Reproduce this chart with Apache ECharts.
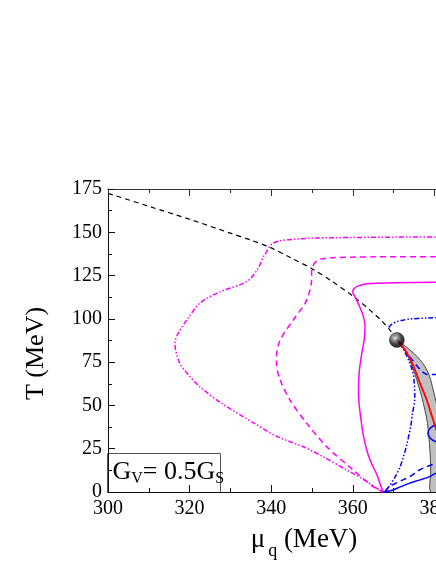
<!DOCTYPE html>
<html>
<head>
<meta charset="utf-8">
<script src="https://cdn.jsdelivr.net/npm/echarts@6/dist/echarts.min.js"></script>
<style>
html,body{margin:0;padding:0;background:#fff;}
#c{width:436px;height:564px;}
</style>
</head>
<body>
<div id="c"></div>
<script>
// ---- data (mu_q in MeV, T in MeV) ----
var xTicks = [300, 320, 340, 360, 380, 400];
var yTicks = [0, 25, 50, 75, 100, 125, 150, 175];

var blackDashed = [[300,172.5],[310,165],[320,157.5],[330,149.5],[335,145.5],[340,141],[345,135],[350,129],[355,121.5],[360,113.2],[364,105.5],[367,99],[369,93.8],[370.5,89]];

var magentaDashDot = [[400,147.5],[385,147.4],[370,147.2],[360,147],[350,146.6],[345,145.9],[342,145],[340.3,143.5],[339.5,141.5],[338.8,138.5],[338.1,135.9],[336.8,129.2],[334,121.5],[327.5,115.7],[322.5,109],[319.3,99.3],[317.2,91.7],[316.4,85.9],[317.6,74.3],[320,67],[322.5,60.8],[328,51],[336,39.5],[341.5,32],[348,26],[353,20],[358.5,12.7],[362.5,7.5],[365.9,2.1],[367.5,0]];

var magentaDashed = [[400,136],[380,135.9],[365,135.8],[355,135.3],[352,134.5],[350.7,132.5],[350.2,130],[349.9,127],[349.9,122.5],[349.3,115],[348.3,109],[345.4,99.3],[342.2,87.8],[341.3,78.1],[341.3,74.3],[342.2,64.7],[344.6,53.1],[348.7,39.7],[353.6,26.2],[360.1,12.7],[365,3.1],[367.5,0]];

var magentaSolid = [[400,121.5],[380,121.1],[370,120.8],[364,120.4],[361.5,119.2],[360.2,117.3],[360,115.5],[360.5,113],[361.5,108],[362.5,102],[363,96],[362.8,88],[362.2,80],[361.6,70],[361.4,60],[361.5,52],[362,42],[362.5,34],[363.4,24.3],[364.5,17],[365.9,10],[366.8,4],[367.5,0]];

var blueDashDotUpper = [[368.8,95],[369.5,96.8],[370.8,98.4],[372.5,99.4],[374,99.9],[378,100.5],[385,100.9],[400,101.2]];
var blueDashDotLower = [[371,87.5],[372.5,82],[373.7,76],[374.6,70],[375,65],[375.2,54],[374.6,45],[374.2,38],[373.2,27],[372.5,21],[371.5,14],[370.3,8.4],[369,3.5],[367.8,0]];

var blueDashedUpper = [[371,87.5],[372.5,83],[374,78],[375.5,73.5],[376.8,70],[378,68],[380,67.8],[385,68.3],[400,69]];
var blueDashedLower = [[367.8,0],[368.9,3.1],[370.5,5],[372.2,6.9],[374,8.9],[376.3,12.7],[378,14.5],[380.4,16.6],[385,20],[400,28]];

var blueSolidUpper = [[400,41],[390,40.5],[383,39.5],[380.4,38.7],[379,37],[378.4,33.9],[379,31],[380.4,29],[383,27.5],[390,25],[400,23]];
var blueSolidLower = [[367.6,0],[369.8,1.2],[371.5,2.8],[373.8,5],[376.5,7],[378.8,8.9],[380.4,10.8],[385,13.5],[400,20]];

var redSolid = [[370.8,87.8],[372.8,82],[374.8,73],[376.6,62],[378,54],[379.1,46],[380.2,38],[381.2,30],[382,20]];

var bandLeft = [[370.8,87.8],[372,84],[373.5,79],[374.8,71],[375.9,63],[376.9,55],[377.7,47],[378.3,39.7],[378.9,24.3],[379.1,12],[379.1,0]];
var bandRight = [[370.8,87.8],[373,84],[375,80],[376.6,76],[377.7,72.4],[378.8,67],[379.7,59],[380.6,50],[381.4,40],[382,28],[382.4,14],[382.5,0]];

var cep = [[370.8,87.8]];

// ---- chart ----
var serif = 'Liberation Serif';
var chart = echarts.init(document.getElementById('c'), null, {renderer:'canvas'});

function lineSeries(name, data, color, type, width, z){
  return {
    name:name, type:'line', data:data, showSymbol:false, symbol:'none',
    smooth:0.3, clip:true, z:z||3, silent:true,
    lineStyle:{color:color, width:width||1.5, type:type||'solid'}
  };
}
var dashDot = [5,2,1.5,2,1.5,2];
var dashed = [6,4];

var option = {
  animation:false,
  backgroundColor:'#fff',
  grid:{left:108, top:189, width:408, height:303, containLabel:false, outerBoundsMode:'none'},
  xAxis:[{
    type:'value', min:xTicks[0], max:xTicks[xTicks.length-1], interval:20,
    position:'bottom',
    name:'{m|\u03bc}{s|q}{m| (MeV)}', nameLocation:'middle', nameGap:34,
    nameTextStyle:{padding:[0,16,0,0], rich:{
      m:{fontFamily:serif, fontSize:27, color:'#000', lineHeight:28, verticalAlign:'top'},
      s:{fontFamily:serif, fontSize:18, color:'#000', lineHeight:18, padding:[16,0,0,3], verticalAlign:'top'}
    }},
    axisLine:{show:true, lineStyle:{color:'#111', width:1}},
    axisTick:{show:true, inside:true, length:7, lineStyle:{color:'#111'}},
    minorTick:{show:true, splitNumber:2, length:4, lineStyle:{color:'#111'}},
    axisLabel:{fontFamily:serif, fontSize:20, color:'#000', margin:7},
    splitLine:{show:false}
  },{
    type:'value', min:xTicks[0], max:xTicks[xTicks.length-1], interval:20,
    position:'top',
    axisLine:{show:true, lineStyle:{color:'#333', width:1}},
    axisTick:{show:true, inside:true, length:7, lineStyle:{color:'#333'}},
    minorTick:{show:true, splitNumber:2, length:4, lineStyle:{color:'#333'}},
    axisLabel:{show:false},
    splitLine:{show:false}
  }],
  yAxis:[{
    type:'value', min:yTicks[0], max:yTicks[yTicks.length-1], interval:25,
    name:'T (MeV)', nameLocation:'middle', nameGap:59, nameRotate:90,
    nameTextStyle:{fontFamily:serif, fontSize:26, color:'#000', padding:[0,26,0,0]},
    axisLine:{show:true, lineStyle:{color:'#111', width:1}},
    axisTick:{show:true, inside:true, length:7, lineStyle:{color:'#111'}},
    minorTick:{show:true, splitNumber:2, length:4, lineStyle:{color:'#111'}},
    axisLabel:{fontFamily:serif, fontSize:20, color:'#000', margin:6},
    splitLine:{show:false}
  }],
  series:[
    {
      type:'custom', name:'band', silent:true, z:1, clip:true,
      data:[0],
      renderItem:function(params, api){
        var pts = [];
        for (var i=0;i<bandLeft.length;i++) pts.push(api.coord(bandLeft[i]));
        for (var j=bandRight.length-1;j>=0;j--) pts.push(api.coord(bandRight[j]));
        return {
          type:'polygon',
          shape:{points:pts, smooth:0.3},
          style:{fill:'#c0c0c0', stroke:'#444', lineWidth:1}
        };
      }
    },
    lineSeries('black', blackDashed, '#000', [5,4], 1.2, 2),
    lineSeries('m1', magentaDashDot, '#ff00ff', dashDot, 1.5),
    lineSeries('m2', magentaDashed, '#ff00ff', dashed, 1.5),
    lineSeries('m3', magentaSolid, '#ff00ff', 'solid', 1.5),
    lineSeries('b1u', blueDashDotUpper, '#0000ff', dashDot, 1.5, 4),
    lineSeries('b1l', blueDashDotLower, '#0000ff', dashDot, 1.5, 4),
    lineSeries('b2u', blueDashedUpper, '#0000ff', dashed, 1.5, 4),
    lineSeries('b2l', blueDashedLower, '#0000ff', dashed, 1.5, 4),
    lineSeries('b3u', blueSolidUpper, '#0000ff', 'solid', 1.5, 4),
    lineSeries('b3l', blueSolidLower, '#0000ff', 'solid', 1.5, 4),
    lineSeries('red', redSolid, '#ff0000', 'solid', 1.8, 5),
    {
      type:'scatter', data:cep, symbol:'circle', symbolSize:15, z:10, silent:true,
      itemStyle:{
        color:new echarts.graphic.RadialGradient(0.38,0.35,0.6,[
          {offset:0,color:'#ffffff'},{offset:0.25,color:'#888'},{offset:0.7,color:'#111'},{offset:1,color:'#000'}
        ]),
        borderColor:'#000', borderWidth:0.5
      }
    }
  ],
  graphic:[{
    type:'group', left:107, top:453, z:100,
    children:[
      {type:'rect', shape:{x:0,y:0,width:113,height:39}, style:{fill:'#fff', stroke:'#555', lineWidth:1}},
      {type:'text', x:5, y:6, style:{
        text:'{a|G}{s|V}{a|= 0.5G}{s|S}',
        rich:{
          a:{fontFamily:serif, fontSize:26, fill:'#000', lineHeight:27, verticalAlign:'top'},
          s:{fontFamily:serif, fontSize:16, fill:'#000', lineHeight:17, padding:[14,0,0,0], verticalAlign:'bottom'}
        }
      }}
    ]
  }]
};
chart.setOption(option);
</script>
</body>
</html>
